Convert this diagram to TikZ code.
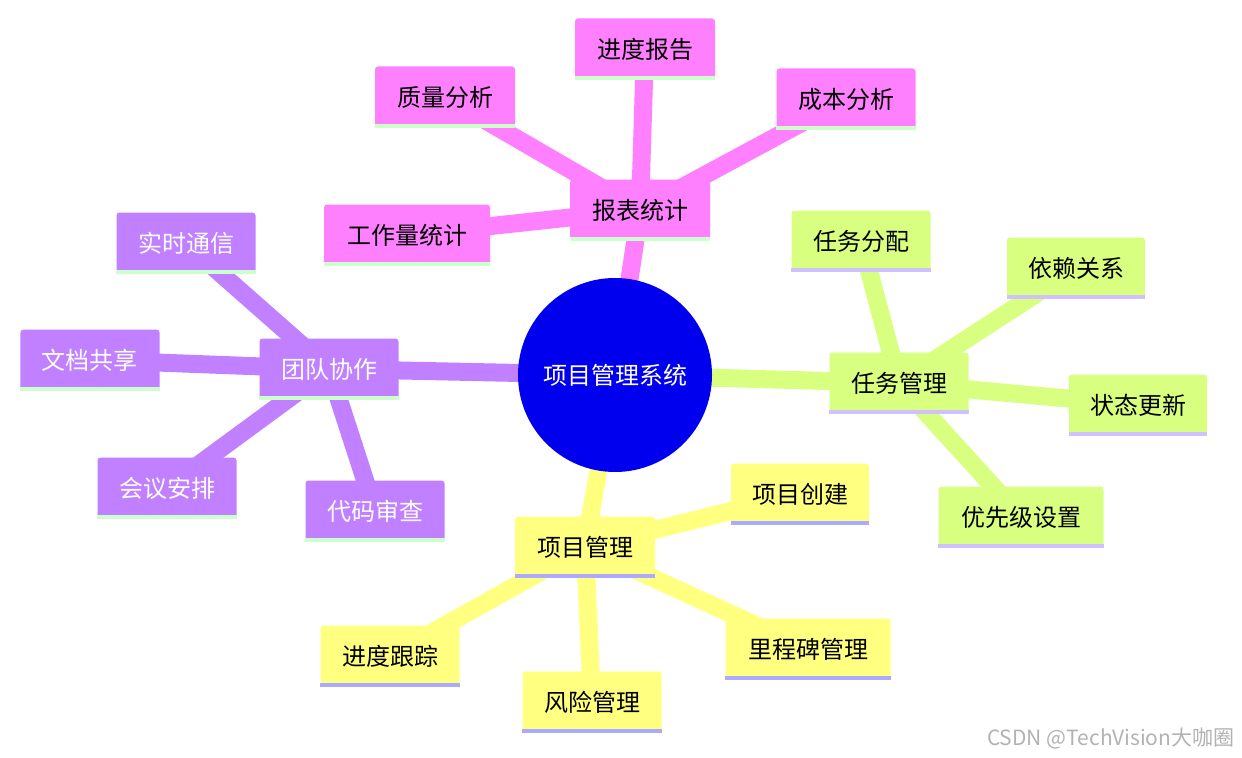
\documentclass[tikz,border=0pt]{standalone}
\usepackage{fontspec}
\newfontfamily\cjk{Noto Sans CJK SC}
\usetikzlibrary{backgrounds}
\definecolor{pk}{HTML}{FF80FF}
\definecolor{gr}{HTML}{D9FF80}
\definecolor{ye}{HTML}{FFFF80}
\definecolor{pu}{HTML}{C080FF}
\definecolor{cb}{HTML}{0000EE}
\definecolor{sg}{HTML}{CCFFCC}
\definecolor{sl}{HTML}{D0C0FF}
\definecolor{sb}{HTML}{AAAAFF}
\tikzset{
 x=1bp,y=-1bp,
 box/.style={rectangle,rounded corners=3bp,minimum height=61bp,inner sep=0pt,font=\cjk\fontsize{24bp}{26bp}\selectfont},
 pkb/.style={box,fill=pk,text=black},
 grb/.style={box,fill=gr,text=black},
 yeb/.style={box,fill=ye,text=black},
 pub/.style={box,fill=pu,text=white},
 link/.style={line width=18bp},
 strip/.style={line width=4bp},
}
\begin{document}
\begin{tikzpicture}
\useasboundingbox (0,0) rectangle (1242,758);
\node[circle,fill=cb,minimum size=194bp,text=white,font=\cjk\fontsize{24bp}{26bp}\selectfont] (c) at (615,375) {项目管理系统};
% pink
\node[pkb,minimum width=140bp] (p0) at (640,210) {报表统计};
\node[pkb,minimum width=140bp] (p1) at (645,49) {进度报告};
\node[pkb,minimum width=140bp] (p2) at (445,97) {质量分析};
\node[pkb,minimum width=139bp] (p3) at (846,99) {成本分析};
\node[pkb,minimum width=166bp] (p4) at (407,235) {工作量统计};
% green
\node[grb,minimum width=139bp] (g0) at (899,383) {任务管理};
\node[grb,minimum width=139bp] (g1) at (861,241) {任务分配};
\node[grb,minimum width=138bp] (g2) at (1076,268) {依赖关系};
\node[grb,minimum width=138bp] (g3) at (1138,405) {状态更新};
\node[grb,minimum width=165bp] (g4) at (1021,517) {优先级设置};
% yellow
\node[yeb,minimum width=140bp] (y0) at (585,547) {项目管理};
\node[yeb,minimum width=138bp] (y1) at (800,494) {项目创建};
\node[yeb,minimum width=139bp] (y2) at (390,656) {进度跟踪};
\node[yeb,minimum width=139bp] (y3) at (592,702) {风险管理};
\node[yeb,minimum width=165bp] (y4) at (808,649) {里程碑管理};
% purple
\node[pub,minimum width=139bp] (u0) at (329,369) {团队协作};
\node[pub,minimum width=139bp] (u1) at (186,243) {实时通信};
\node[pub,minimum width=139bp] (u2) at (90,360) {文档共享};
\node[pub,minimum width=139bp] (u3) at (167,488) {会议安排};
\node[pub,minimum width=139bp] (u4) at (375,511) {代码审查};
% strips
\foreach \n in {p0,p1,p2,p3,p4,u0,u1,u2,u3,u4} \draw[strip,sg] ([yshift=2bp]\n.south west) -- ([yshift=2bp]\n.south east);
\foreach \n in {g0,g1,g2,g3,g4} \draw[strip,sl] ([yshift=2bp]\n.south west) -- ([yshift=2bp]\n.south east);
\foreach \n in {y0,y1,y2,y3,y4} \draw[strip,sb] ([yshift=2bp]\n.south west) -- ([yshift=2bp]\n.south east);
\begin{pgfonlayer}{background}
\draw[link,pk] (c.center) -- (p0.center);
\foreach \n in {p1,p2,p3,p4} \draw[link,pk] (p0.center) -- (\n.center);
\draw[link,gr] (c.center) -- (g0.center);
\foreach \n in {g1,g2,g3,g4} \draw[link,gr] (g0.center) -- (\n.center);
\draw[link,ye] (c.center) -- (y0.center);
\foreach \n in {y1,y2,y3,y4} \draw[link,ye] (y0.center) -- (\n.center);
\draw[link,pu] (c.center) -- (u0.center);
\foreach \n in {u1,u2,u3,u4} \draw[link,pu] (u0.center) -- (\n.center);
\end{pgfonlayer}
\node[anchor=east,text=black!30,font=\cjk\fontsize{21bp}{23bp}\selectfont] (wm) at (1238,739) {CSDN @TechVision大咖圈};
\end{tikzpicture}
\end{document}
